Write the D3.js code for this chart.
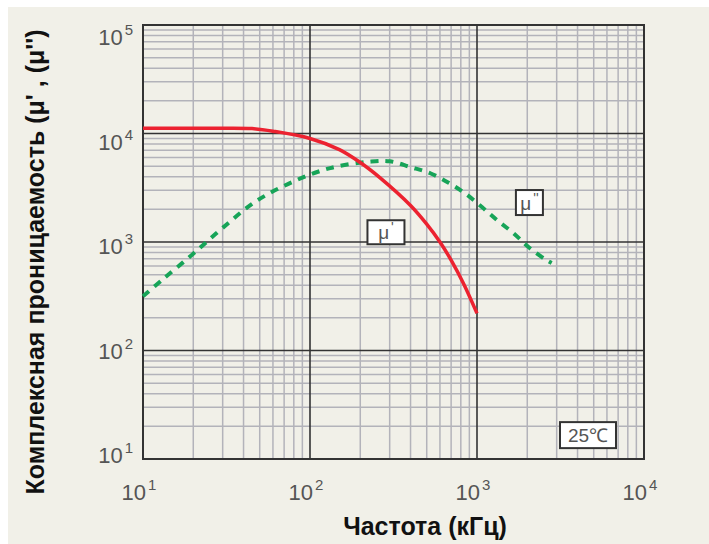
<!DOCTYPE html>
<meta charset="utf-8">
<script src="https://d3js.org/d3.v7.min.js"></script>
<body style="margin:0;background:#fff;">
<svg width="709" height="544"></svg>
<style>
text { font-family: 'Liberation Sans', Arial, sans-serif; }
.tick { fill: #555; font-size: 22px; }
.title { fill: #111; font-size: 25px; font-weight: bold; }
.lbl { fill: #555; font-size: 19px; }
</style>
<script>
// data (frequency in kHz, permeability)
const muReal = [[10,11200],[20,11200],[30,11200],[45,11100],[60,10500],[100,9000],[150,7100],[200,5400],[263,3900],[400,2170],[500,1460],[600,1000],[708,660],[830,415],[1000,220]];
const muImag = [[10,316],[13,447],[19.6,760],[30,1350],[47,2350],[78,3560],[132,4800],[229,5500],[300,5550],[400,4900],[525,4300],[680,3500],[850,2800],[1070,2100],[1320,1590],[1660,1200],[2050,890],[2570,690],[2800,640]];
const xExp = [1, 2, 3, 4];
const yExp = [1, 2, 3, 4, 5];
const boxes = [
  {f: 285, v: 1230, text: "μ", sup: "'", w: 37, h: 24},
  {f: 2060, v: 2310, text: "μ", sup: "''", w: 27, h: 25},
  {f: 4620, v: 16.6, text: "25℃", sup: "", w: 56, h: 26}
];

const svg = d3.select('svg');
const L = 143, T = 25, R = 644, B = 459;

svg.append('rect').attr('x', 8).attr('y', 7).attr('width', 701).attr('height', 537).attr('fill', '#f1f0e8');

const x = d3.scaleLog().domain([10, 10000]).range([L, R]);
const y = d3.scaleLog().domain([10, 100000]).range([B, T]);
// the printed y labels sit slightly tighter than the grid
const yLab = d3.scaleLinear().domain([1, 5]).range([463, 45]);

// minor grid
const minorX = [], minorY = [];
for (let e = 1; e < 4; e++) for (let k = 2; k < 10; k++) minorX.push(k * Math.pow(10, e));
for (let e = 1; e < 5; e++) for (let k = 2; k < 10; k++) minorY.push(k * Math.pow(10, e));

const g = svg.append('g');
g.selectAll('line.mx').data(minorX).enter().append('line')
  .attr('x1', d => x(d)).attr('x2', d => x(d)).attr('y1', T).attr('y2', B)
  .attr('stroke', '#b3b3ba').attr('stroke-width', 1.5);
g.selectAll('line.my').data(minorY).enter().append('line')
  .attr('y1', d => y(d)).attr('y2', d => y(d)).attr('x1', L).attr('x2', R)
  .attr('stroke', '#b3b3ba').attr('stroke-width', 1.5);
// major grid
g.selectAll('line.Mx').data(xExp).enter().append('line')
  .attr('x1', d => x(Math.pow(10, d))).attr('x2', d => x(Math.pow(10, d))).attr('y1', T).attr('y2', B)
  .attr('stroke', '#333').attr('stroke-width', 1.6);
g.selectAll('line.My').data(yExp).enter().append('line')
  .attr('y1', d => y(Math.pow(10, d))).attr('y2', d => y(Math.pow(10, d))).attr('x1', L).attr('x2', R)
  .attr('stroke', '#333').attr('stroke-width', 1.6);
g.append('rect').attr('x', L).attr('y', T).attr('width', R - L).attr('height', B - T)
  .attr('fill', 'none').attr('stroke', '#333').attr('stroke-width', 2);

// tick labels
const xl = svg.selectAll('text.xt').data(xExp).enter().append('text')
  .attr('class', 'tick').attr('text-anchor', 'middle')
  .attr('x', d => x(Math.pow(10, d)) - 4).attr('y', 500);
xl.append('tspan').text('10');
xl.append('tspan').attr('font-size', 15).attr('dy', -10).attr('dx', 2).text(d => d);

const yl = svg.selectAll('text.yt').data(yExp).enter().append('text')
  .attr('class', 'tick').attr('text-anchor', 'end')
  .attr('x', 133).attr('y', d => yLab(d));
yl.append('tspan').text('10');
yl.append('tspan').attr('font-size', 15).attr('dy', -10).attr('dx', 2).text(d => d);

// curves
const line = d3.line().x(d => x(d[0])).y(d => y(d[1])).curve(d3.curveCatmullRom.alpha(0.5));
svg.append('path').datum(muImag).attr('d', line).attr('fill', 'none')
  .attr('stroke', '#17a458').attr('stroke-width', 4).attr('stroke-dasharray', '8,7');
svg.append('path').datum(muReal).attr('d', line).attr('fill', 'none')
  .attr('stroke', '#ec2230').attr('stroke-width', 3.5);

// label boxes
const bx = svg.selectAll('g.box').data(boxes).enter().append('g')
  .attr('transform', d => `translate(${x(d.f)},${y(d.v)})`);
bx.append('rect').attr('x', d => -d.w / 2).attr('y', d => -d.h / 2)
  .attr('width', d => d.w).attr('height', d => d.h)
  .attr('fill', '#fff').attr('stroke', '#333').attr('stroke-width', 2);
const bt = bx.append('text').attr('class', 'lbl').attr('text-anchor', 'middle').attr('y', 7);
bt.append('tspan').text(d => d.text);
bt.append('tspan').attr('font-size', 14).attr('dy', -7).attr('dx', 2).text(d => d.sup);

// titles
svg.append('text').attr('class', 'title').attr('text-anchor', 'middle')
  .attr('x', 425).attr('y', 535).text('Частота (кГц)');
svg.append('text').attr('class', 'title').attr('text-anchor', 'middle')
  .attr('transform', 'translate(44,262) rotate(-90)').text("Комплексная проницаемость (μ' , (μ'')");
</script>
</body>
